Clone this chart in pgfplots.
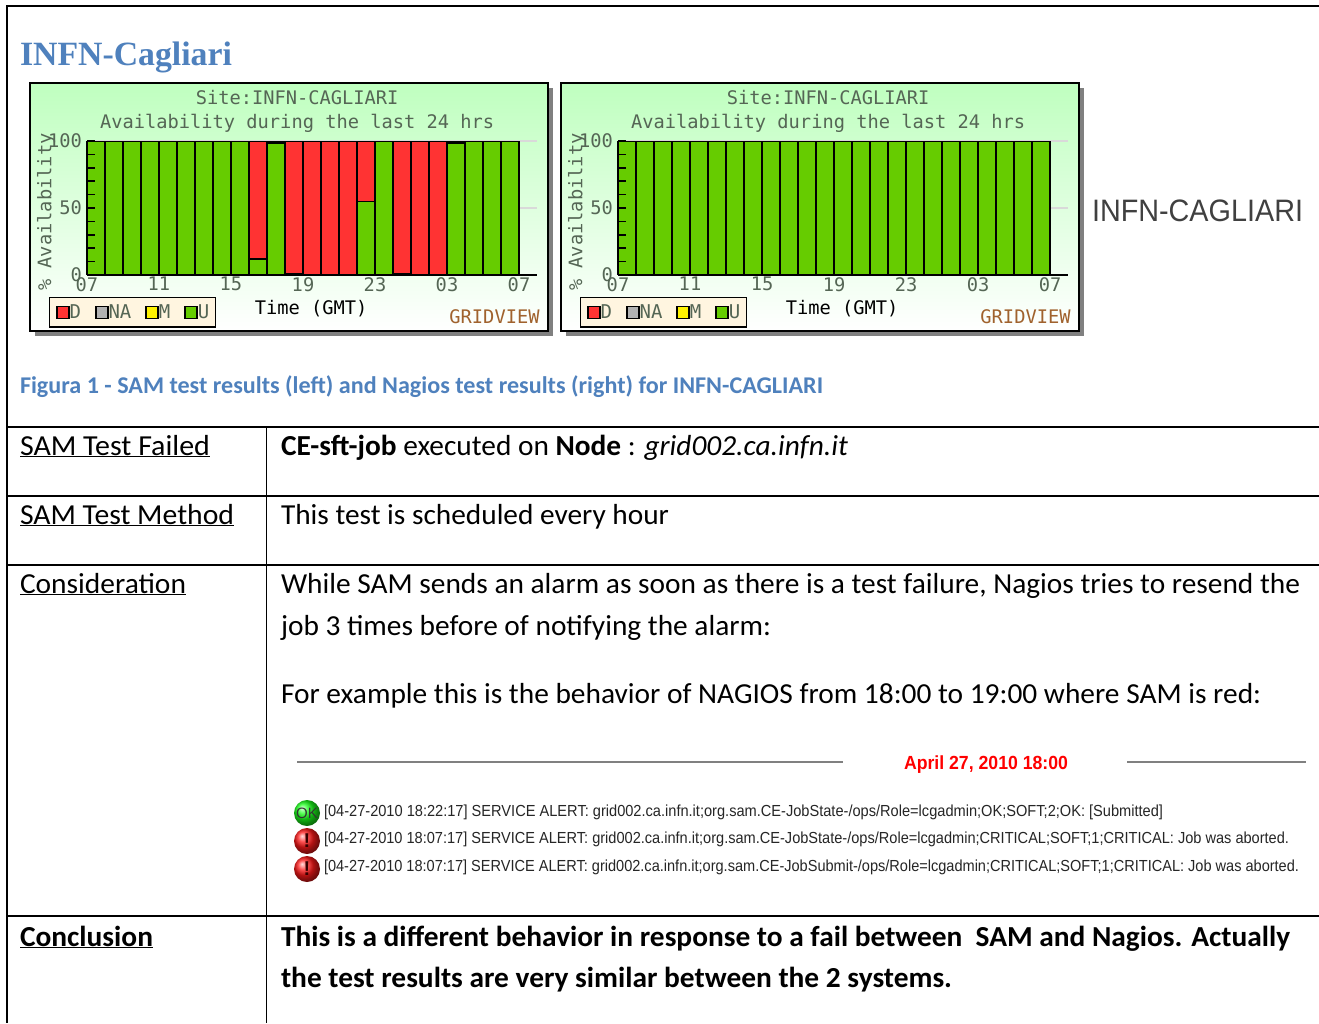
\documentclass[border=0pt]{standalone}
\usepackage{fontspec}
\usepackage{graphicx}
\usepackage{pgfplots}
\usepackage{pgfplotstable}
\pgfplotsset{compat=1.18}
\setmainfont{Carlito}
\newfontfamily\monof{DejaVu Sans Mono}
\newfontfamily\serb{Liberation Serif}
\newfontfamily\arial{Liberation Sans}
\definecolor{hblue}{HTML}{4F81BD}
\definecolor{ugreen}{HTML}{66CC00}
\definecolor{dred}{HTML}{FF3333}
\definecolor{chartgray}{HTML}{556655}
\definecolor{cream}{HTML}{FFF5E0}
\definecolor{gv}{HTML}{A0622D}
\definecolor{topgreen}{HTML}{BFFFBF}
\pgfplotstableread{
x U D K
0.5 100 0 0
1.5 100 0 0
2.5 100 0 0
3.5 100 0 0
4.5 100 0 0
5.5 100 0 0
6.5 100 0 0
7.5 100 0 0
8.5 100 0 0
9.5 12 88 0
10.5 98 0 2
11.5 1 99 0
12.5 0 100 0
13.5 0 100 0
14.5 0 100 0
15.5 55 45 0
16.5 100 0 0
17.5 1 99 0
18.5 0 100 0
19.5 0 100 0
20.5 98 0 2
21.5 100 0 0
22.5 100 0 0
23.5 100 0 0
}\samdata
\pgfplotstableread{
x U D K
0.5 100 0 0
1.5 100 0 0
2.5 100 0 0
3.5 100 0 0
4.5 100 0 0
5.5 100 0 0
6.5 100 0 0
7.5 100 0 0
8.5 100 0 0
9.5 100 0 0
10.5 100 0 0
11.5 100 0 0
12.5 100 0 0
13.5 100 0 0
14.5 100 0 0
15.5 100 0 0
16.5 100 0 0
17.5 100 0 0
18.5 100 0 0
19.5 100 0 0
20.5 100 0 0
21.5 100 0 0
22.5 100 0 0
23.5 100 0 0
}\nagdata
\newcommand\T[5]{\node[anchor=base west,inner sep=0pt,outer sep=0pt,#4] at (#1,#2) {\resizebox{#3pt}{\height}{#5}};}
\newcommand\swatch[1]{\draw[draw=black,line width=1.5pt,fill=#1] (0pt,-6pt) rectangle (12pt,6pt);}
\newcommand\chart[2]{%
  \begin{scope}[x=1pt,y=-1pt,xshift=#1pt]
    \fill[black!50] (35,88) rectangle (553,336);
    \shade[top color=topgreen,bottom color=white,draw=black,line width=1.5pt] (30,83) rectangle (548,331);
    \node[anchor=base,inner sep=0pt,text=gv,font=\monof\fontsize{18.7}{18.7}\selectfont] at (494.5,323) {GRIDVIEW};
  \end{scope}
  \begin{axis}[
    at={(87pt+#1pt,-275pt)},anchor=origin,scale only axis,width=450pt,height=134pt,
    xmin=0,xmax=25,ymin=0,ymax=100,
    xtick=\empty,ytick={50,100},yticklabels={,},major tick length=0pt,
    axis line style={draw=none},
    grid=major,grid style={draw=black!15,line width=1.2pt}]
  \end{axis}
  \begin{axis}[
    at={(87pt+#1pt,-275pt)},anchor=origin,scale only axis,width=450pt,height=134pt,
    xmin=0,xmax=25,ymin=0,ymax=100,
    ybar stacked,bar width=1,
    axis on top,
    axis x line=bottom,axis y line=left,
    axis line style={-,line width=1.5pt,black},
    xtick={0,4,8,12,16,20,24},xticklabels={07,11,15,19,23,03,07},
    ytick={0,50,100},yticklabels={0,50,100},
    minor ytick={10,20,30,40,60,70,80,90},
    tick align=inside,
    x tick style={draw=none},
    y tick style={black,line width=1.5pt},
    major tick length=8pt,minor tick length=8pt,
    xticklabel style={font=\monof\fontsize{18.7}{18.7}\selectfont,text=chartgray,inner sep=0pt,yshift=-2pt},
    yticklabel style={font=\monof\fontsize{18.7}{18.7}\selectfont,text=chartgray,inner sep=0pt,xshift=-5pt},
    title={Site:INFN-CAGLIARI\\Availability during the last 24 hrs},
    title style={at={(rel axis cs:0.467,1)},anchor=south,yshift=2pt,align=center,inner sep=0pt,
      text=chartgray,font=\monof\fontsize{18.7}{24}\selectfont},
    xlabel={Time (GMT)},
    xlabel style={at={(rel axis cs:0.498,0)},anchor=north,yshift=-25pt,inner sep=0pt,
      font=\monof\fontsize{18.7}{18.7}\selectfont,text=black},
    ylabel={\% Availability},
    ylabel style={at={(rel axis cs:-0.091,0.47)},anchor=center,inner sep=0pt,
      font=\monof\fontsize{18.7}{18.7}\selectfont,text=chartgray},
    legend columns=4,
    legend cell align=left,
    legend style={at={(rel axis cs:-0.0844,-0.164)},anchor=north west,fill=cream,draw=black,
      line width=1.2pt,inner xsep=6.5pt,inner ysep=7pt,
      font=\monof\fontsize{19}{19}\selectfont,text=chartgray,
      /tikz/every even column/.append style={column sep=14pt},
      nodes={inner sep=0pt,outer sep=0pt}},
  ]
    \addplot[forget plot,draw=black,line width=1.5pt,fill=ugreen] table[x=x,y=U] {#2};
    \addplot[forget plot,draw=black,line width=1.5pt,fill=dred] table[x=x,y=D] {#2};
    \addplot[forget plot,draw=black,line width=1.5pt,fill=black] table[x=x,y=K] {#2};
    \addlegendimage{legend image code/.code={\swatch{dred}}}
    \addlegendentry{D}
    \addlegendimage{legend image code/.code={\swatch{black!30}}}
    \addlegendentry{NA}
    \addlegendimage{legend image code/.code={\swatch{yellow}}}
    \addlegendentry{M}
    \addlegendimage{legend image code/.code={\swatch{ugreen}}}
    \addlegendentry{U}
  \end{axis}
  \begin{axis}[
    at={(87pt+#1pt,-275pt)},anchor=origin,scale only axis,width=450pt,height=134pt,
    xmin=0,xmax=25,ymin=0,ymax=100,
    axis lines=none]
    \addplot[black,line width=2pt,forget plot] coordinates {(24,0) (24,7)};
  \end{axis}
}
\begin{document}
\begin{tikzpicture}
\path[use as bounding box] (0pt,0pt) rectangle (1319pt,-1023pt);
\fill[white] (0pt,0pt) rectangle (1319pt,-1023pt);
\chart{0}{\samdata}
\chart{531}{\nagdata}
\begin{scope}[x=1pt,y=-1pt]
  % table rules
  \draw[black,line width=2pt] (1319,5.5) -- (6.5,5.5) -- (6.5,1023);
  \foreach \yy in {427,496,565,916} {\draw[black,line width=1.6pt] (6.5,\yy) -- (1319,\yy);}
  \draw[black,line width=1.6pt] (266.5,427) -- (266.5,1023);
  % headings
  \T{20}{65}{212}{text=hblue}{\serb\bfseries\fontsize{34}{34}\selectfont INFN-Cagliari}
  \T{20}{393}{803}{text=hblue}{\bfseries\fontsize{24}{24}\selectfont Figura 1 - SAM test results (left) and Nagios test results (right) for INFN-CAGLIARI}
  \T{1092}{221}{211}{text=black!75}{\arial\fontsize{31}{31}\selectfont INFN-CAGLIARI}
  % left column
  \T{20}{455}{190}{}{\fontsize{29}{29}\selectfont\underline{SAM Test Failed}}
  \T{20}{524}{214}{}{\fontsize{29}{29}\selectfont\underline{SAM Test Method}}
  \T{20}{593}{166}{}{\fontsize{29}{29}\selectfont\underline{Consideration}}
  \T{20}{946}{133}{}{\fontsize{29}{29}\selectfont\bfseries\underline{Conclusion}}
  % right column
  \T{281}{455}{567}{}{\fontsize{29}{29}\selectfont\textbf{CE-sft-job} executed on \textbf{Node} : \textit{grid002.ca.infn.it}}
  \T{281}{524}{388}{}{\fontsize{29}{29}\selectfont This test is scheduled every hour}
  \T{281}{593}{1019}{}{\fontsize{29}{29}\selectfont While SAM sends an alarm as soon as there is a test failure, Nagios tries to resend the}
  \T{281}{635}{490}{}{\fontsize{29}{29}\selectfont job 3 times before of notifying the alarm:}
  \T{281}{703}{980}{}{\fontsize{29}{29}\selectfont For example this is the behavior of NAGIOS from 18:00 to 19:00 where SAM is red:}
  \T{281}{946}{1009}{}{\fontsize{29}{29}\selectfont\bfseries This is a different behavior in response to a fail between\ \ SAM and Nagios. Actually}
  \T{281}{987}{671}{}{\fontsize{29}{29}\selectfont\bfseries the test results are very similar between the 2 systems.}
  % log excerpt
  \draw[black!50,line width=1.5pt] (297,762) -- (843,762);
  \draw[black!50,line width=1.5pt] (1127,762) -- (1306,762);
  \T{904}{769}{164}{text=red}{\arial\bfseries\fontsize{19}{19}\selectfont April 27, 2010 18:00}
  \shade[ball color=green!90!white] (307,813) ellipse (13 and 13);
  \shade[ball color=red!90!white] (307,841) ellipse (13 and 13);
  \shade[ball color=red!90!white] (307,869) ellipse (13 and 13);
  \node[inner sep=0pt,font=\arial\fontsize{15}{15}\selectfont,text=black!80] at (307,813.5) {OK};
  \node[inner sep=0pt,font=\arial\bfseries\fontsize{20}{20}\selectfont,text=black!80!red] at (307,841) {!};
  \node[inner sep=0pt,font=\arial\bfseries\fontsize{20}{20}\selectfont,text=black!80!red] at (307,869) {!};
  \T{324}{816}{839}{text=black!85}{\arial\fontsize{16}{16}\selectfont [04-27-2010 18:22:17] SERVICE ALERT: grid002.ca.infn.it;org.sam.CE-JobState-/ops/Role=lcgadmin;OK;SOFT;2;OK: [Submitted]}
  \T{324}{843}{965}{text=black!85}{\arial\fontsize{16}{16}\selectfont [04-27-2010 18:07:17] SERVICE ALERT: grid002.ca.infn.it;org.sam.CE-JobState-/ops/Role=lcgadmin;CRITICAL;SOFT;1;CRITICAL: Job was aborted.}
  \T{324}{871}{975}{text=black!85}{\arial\fontsize{16}{16}\selectfont [04-27-2010 18:07:17] SERVICE ALERT: grid002.ca.infn.it;org.sam.CE-JobSubmit-/ops/Role=lcgadmin;CRITICAL;SOFT;1;CRITICAL: Job was aborted.}
\end{scope}
\end{tikzpicture}
\end{document}
